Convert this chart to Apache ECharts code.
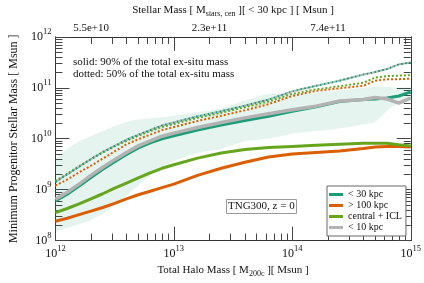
<!DOCTYPE html>
<html><head><meta charset="utf-8">
<script src="https://cdn.jsdelivr.net/npm/echarts@6/dist/echarts.min.js"></script>
<style>html,body{margin:0;padding:0;background:#fff}#c{width:424px;height:283px}</style>
</head><body><div id="c"></div>
<script>
// log10 of total halo mass [Msun]
const logHaloMass = [12.0,12.1,12.2,12.3,12.4,12.5,12.6,12.7,12.8,12.9,13.0,13.2,13.4,13.6,13.8,14.0,14.2,14.4,14.6,14.7,14.8,14.9,15.0];
// log10 minimum progenitor stellar mass, solid (90%)
const solidLt30  = [8.78,8.91,9.07,9.24,9.40,9.55,9.69,9.82,9.92,10.00,10.06,10.17,10.27,10.36,10.44,10.54,10.63,10.73,10.77,10.78,10.80,10.84,10.92];
const solidGt100 = [8.38,8.44,8.51,8.58,8.65,8.73,8.82,8.90,8.97,9.04,9.11,9.28,9.42,9.54,9.64,9.70,9.73,9.76,9.81,9.84,9.85,9.85,9.84];
const solidCen   = [8.55,8.63,8.72,8.82,8.92,9.03,9.13,9.23,9.33,9.42,9.49,9.62,9.72,9.79,9.83,9.85,9.87,9.89,9.91,9.91,9.91,9.88,9.86];
const solidLt10  = [8.81,8.95,9.11,9.28,9.44,9.59,9.73,9.86,9.96,10.05,10.11,10.22,10.32,10.41,10.49,10.57,10.64,10.74,10.77,10.81,10.78,10.70,10.80];
// dotted (50%)
const dotLt30  = [9.15,9.30,9.45,9.60,9.74,9.86,9.98,10.08,10.17,10.26,10.32,10.44,10.54,10.65,10.77,10.93,11.04,11.14,11.26,11.31,11.37,11.46,11.50];
const dotGt100 = [9.08,9.20,9.34,9.47,9.61,9.75,9.89,9.99,10.08,10.17,10.23,10.35,10.45,10.56,10.68,10.84,10.94,10.99,11.04,11.14,11.17,11.17,11.18];
const dotCen   = [9.17,9.31,9.46,9.60,9.73,9.85,9.96,10.06,10.15,10.23,10.29,10.41,10.51,10.62,10.73,10.88,10.97,11.03,11.10,11.20,11.23,11.24,11.25];
const dotLt10  = [9.15,9.30,9.45,9.60,9.74,9.86,9.98,10.08,10.17,10.26,10.32,10.44,10.54,10.65,10.77,10.93,11.04,11.14,11.26,11.31,11.37,11.46,11.50];
// scatter band of < 30 kpc
const bandLow  = [8.19,8.25,8.32,8.40,8.52,8.68,8.88,9.08,9.28,9.45,9.56,9.72,9.80,9.95,10.00,10.10,10.15,10.20,10.28,10.33,10.55,10.70,10.75];
const bandHigh = [9.59,9.80,9.95,10.05,10.15,10.25,10.33,10.38,10.40,10.42,10.45,10.52,10.60,10.75,10.88,10.88,10.90,10.95,11.00,11.02,11.02,11.00,11.00];
// top axis: stellar mass labels at halo mass positions
const topTickHaloMass = [2e12, 2e13, 2e14];
const topTickLabels = ['5.5e+10','2.3e+11','7.4e+11'];
const legendNames = ['< 30 kpc','> 100 kpc','central + ICL','< 10 kpc'];

const FONT = 'Liberation Serif';
const C = {teal:'#1b9e77', orange:'#d95f02', green:'#66a61e', gray:'#b3b3b3'};
const P = v => Math.pow(10, v);
const pair = ys => logHaloMass.map((x,i)=>[P(x), P(ys[i])]);

const pow = {
  b:{fontSize:12, fontFamily:FONT, color:'#111'},
  s:{fontSize:8.5, fontFamily:FONT, color:'#111', padding:[0,0,10,0]}
};
const powFmt = v => '{b|10}{s|' + Math.round(Math.log10(v)) + '}';
const subRich = {a:{fontSize:11, fontFamily:FONT, color:'#111'}, u:{fontSize:8, fontFamily:FONT, color:'#111', padding:[7,0,0,0]}};
const mk = () => ({
  axisTick:{show:true, inside:true, length:14, lineStyle:{color:'#444'}},
  minorTick:{show:true, splitNumber:9, length:7, lineStyle:{color:'#444'}},
  splitLine:{show:true, lineStyle:{color:'rgba(255,255,255,0)'}},
  axisLine:{show:true, lineStyle:{color:'#333'}}
});

const option = {
  animation:false,
  grid:{left:50, right:13, top:35, bottom:41},
  xAxis:[
    Object.assign(mk(), {type:'log', min:1e12, max:1e15, position:'bottom',
      axisLabel:{formatter:powFmt, rich:pow, margin:4},
      name:'{a|Total Halo Mass [ M}{u|200c}{a| ][ Msun ]}', nameLocation:'middle', nameGap:21,
      nameTextStyle:{rich:subRich}
    }),
    Object.assign(mk(), {type:'log', min:1e12, max:1e15, position:'top',
      axisLabel:{customValues:topTickHaloMass, margin:3, fontSize:11, fontFamily:FONT, color:'#111',
        formatter:v=>{ const i = topTickHaloMass.findIndex(p=>Math.abs(p-v)/p<1e-6); return i>=0?topTickLabels[i]:''; }},
      name:'{a|Stellar Mass [ M}{u|stars, cen}{a| ][ < 30 kpc ] [ Msun ]}', nameLocation:'middle', nameGap:17,
      nameTextStyle:{rich:subRich}
    })
  ],
  yAxis:[
    Object.assign(mk(), {type:'log', min:1e8, max:1e12, position:'left',
      axisLabel:{formatter:powFmt, rich:pow, margin:4},
      name:'Minimum Progenitor Stellar Mass [ Msun ]', nameLocation:'middle', nameGap:29,
      nameTextStyle:{fontSize:12, fontFamily:FONT, color:'#111'}
    }),
    Object.assign(mk(), {type:'log', min:1e8, max:1e12, position:'right', axisLabel:{show:false}})
  ],
  legend:{
    data:legendNames, orient:'vertical', left:327, top:186,
    backgroundColor:'#fff', borderColor:'#666', borderWidth:1,
    padding:[3,4,3,2], itemGap:0, itemWidth:14, itemHeight:3, icon:'rect',
    textStyle:{fontSize:10, fontFamily:FONT, color:'#111', lineHeight:11}
  },
  title:{
    text:'TNG300, z = 0', left:226, top:199, padding:2,
    borderColor:'#999', borderWidth:1, backgroundColor:'#fff',
    textStyle:{fontSize:11, fontWeight:'normal', fontFamily:FONT, color:'#111'}
  },
  graphic:[
    {type:'text', left:73, top:57, style:{text:'solid: 90% of the total ex-situ mass', font:'11px "Liberation Serif"', fill:'#111'}},
    {type:'text', left:73, top:69, style:{text:'dotted: 50% of the total ex-situ mass', font:'11px "Liberation Serif"', fill:'#111'}}
  ],
  series:[
    {type:'custom', data:logHaloMass.map((x,i)=>[P(x), P(bandLow[i]), P(bandHigh[i])]), encode:{x:0, y:[1,2]}, z:1, silent:true, clip:true,
      renderItem:(params, api)=>{
        if (params.dataIndex !== 0) return null;
        const up = [], lo = [];
        for (let i=0;i<logHaloMass.length;i++){
          up.push(api.coord([P(logHaloMass[i]), P(bandHigh[i])]));
          lo.push(api.coord([P(logHaloMass[i]), P(bandLow[i])]));
        }
        return {type:'polygon', shape:{points:up.concat(lo.reverse()), smooth:0.2}, style:{fill:'rgba(27,158,119,0.11)'}};
      }},
    {type:'line', data:pair(dotGt100), symbol:'none', lineStyle:{color:C.orange, width:2, type:[2,2]}, z:2},
    {type:'line', data:pair(dotCen), symbol:'none', lineStyle:{color:C.green, width:2, type:[2,2]}, z:2},
    {type:'line', data:pair(dotLt30), symbol:'none', lineStyle:{color:C.teal, width:2, type:[2,2]}, z:2},
    {type:'line', data:pair(dotLt10), symbol:'none', lineStyle:{color:C.gray, width:2, type:[2,2], dashOffset:2}, z:2},
    {name:'< 30 kpc', type:'line', data:pair(solidLt30), symbol:'none', color:C.teal, lineStyle:{color:C.teal, width:3}, z:3},
    {name:'> 100 kpc', type:'line', data:pair(solidGt100), symbol:'none', color:C.orange, lineStyle:{color:C.orange, width:3}, z:3},
    {name:'central + ICL', type:'line', data:pair(solidCen), symbol:'none', color:C.green, lineStyle:{color:C.green, width:3}, z:3},
    {name:'< 10 kpc', type:'line', data:pair(solidLt10), symbol:'none', color:C.gray, lineStyle:{color:C.gray, width:3.5}, z:3}
  ]
};
echarts.init(document.getElementById('c')).setOption(option);
</script></body></html>
